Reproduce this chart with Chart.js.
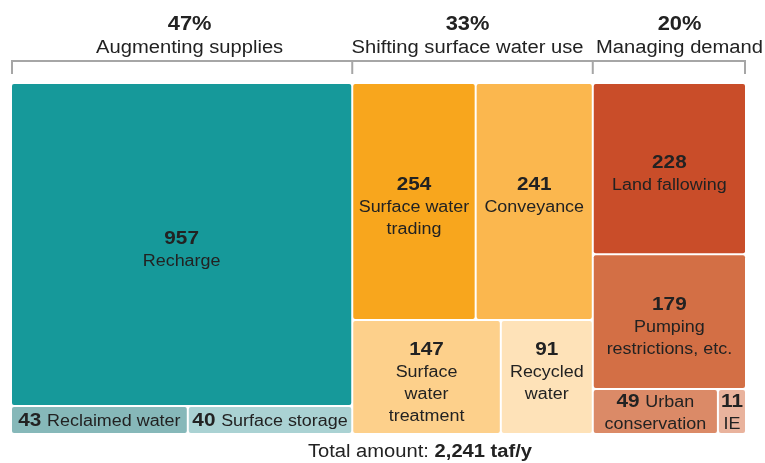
<!DOCTYPE html>
<html>
<head>
<meta charset="utf-8">
<script src="https://cdn.jsdelivr.net/npm/chart.js@4/dist/chart.umd.min.js"></script>
<style>
  html, body { margin: 0; padding: 0; background: #ffffff; }
  canvas { display: block; }
</style>
</head>
<body>
<canvas id="chart" width="765" height="463"></canvas>
<script>
// Groundwater balancing strategies (thousand acre-feet per year)
const categories = [
  'Recharge', 'Reclaimed water', 'Surface storage',
  'Surface water\ntrading', 'Conveyance', 'Surface\nwater\ntreatment', 'Recycled\nwater',
  'Land fallowing', 'Pumping\nrestrictions, etc.', 'Urban\nconservation', 'IE'
];
const values = [957, 43, 40, 254, 241, 147, 91, 228, 179, 49, 11];
const groupOfCategory = [0, 0, 0, 1, 1, 1, 1, 2, 2, 2, 2];
const groupNames = ['Augmenting supplies', 'Shifting surface water use', 'Managing demand'];
const groupShares = ['47%', '33%', '20%'];
const totalPrefix = 'Total amount: ';
const totalText = '2,241 taf/y';

const cellColors = [
  '#16999a', '#86b8b9', '#aad2d3',
  '#f8a61d', '#fbb74e', '#fdd08b', '#fee2b8',
  '#c94d29', '#d36f45', '#db8a67', '#e9b39d'
];

// Rows of cells inside each group column (category indices)
const tiling = [
  [[0], [1, 2]],
  [[3, 4], [5, 6]],
  [[7], [8], [9, 10]]
];

// Horizontal shift of each group heading away from its column centre (px)
const headerShift = [8, -5, 11];

// Slice-and-dice layout in value space: x spans the total, y spans 0..1
const total = values.reduce((a, b) => a + b, 0);
const rects = [];
const groupSpans = [];
let gx = 0;
tiling.forEach((rows) => {
  const gSum = rows.flat().reduce((s, i) => s + values[i], 0);
  const gx1 = gx + gSum;
  groupSpans.push([gx, gx1]);
  let ry = 0;
  rows.forEach((row) => {
    const rSum = row.reduce((s, i) => s + values[i], 0);
    const ry1 = ry + rSum / gSum;
    let cx = gx;
    row.forEach((i) => {
      const w = values[i] / rSum * gSum;
      rects[i] = { x0: cx, x1: cx + w, y0: ry, y1: ry1, row };
      cx += w;
    });
    ry = ry1;
  });
  gx = gx1;
});

const SX = 1.12;
const FAMILY = "'Liberation Sans', Arial, Helvetica, sans-serif";
const TEXT = '#222222';
const fontStr = (bold, size) => (bold ? 'bold ' : '') + size + 'px ' + FAMILY;

function partsWidth(ctx, parts) {
  let w = 0;
  parts.forEach((p) => { ctx.font = fontStr(p.bold, p.size); w += ctx.measureText(p.text).width * SX; });
  return w;
}
function drawParts(ctx, parts, cx, baseline) {
  let xx = cx - partsWidth(ctx, parts) / 2;
  parts.forEach((p) => {
    ctx.font = fontStr(p.bold, p.size);
    const w = ctx.measureText(p.text).width * SX;
    ctx.save();
    ctx.translate(xx, baseline);
    ctx.scale(SX, 1);
    ctx.fillStyle = TEXT;
    ctx.textAlign = 'left';
    ctx.textBaseline = 'alphabetic';
    ctx.fillText(p.text, 0, 0);
    ctx.restore();
    xx += w;
  });
}

const VAL = 18.5, NAME = 16, LH = 22;

const treemapPlugin = {
  id: 'treemapCells',
  beforeDatasetsDraw(chart) {
    const { ctx, scales: { x, y } } = chart;
    rects.forEach((r, i) => {
      const L = x.getPixelForValue(r.x0) + 1, R = x.getPixelForValue(r.x1) - 1;
      const T = y.getPixelForValue(r.y0) + 1, B = y.getPixelForValue(r.y1) - 1;
      ctx.fillStyle = cellColors[i];
      ctx.beginPath();
      ctx.roundRect(L, T, R - L, B - T, 2);
      ctx.fill();
    });
  },
  afterDatasetsDraw(chart) {
    const { ctx, scales: { x, y } } = chart;

    // cell labels: bold value above the name, or inline in short cells
    const cellLines = rects.map((r, i) => {
      const L = x.getPixelForValue(r.x0) + 1, R = x.getPixelForValue(r.x1) - 1;
      const T = y.getPixelForValue(r.y0) + 1, B = y.getPixelForValue(r.y1) - 1;
      const names = categories[i].split('\n');
      const v = String(values[i]);
      const nameLines = names.map((n) => [{ text: n, bold: false, size: NAME }]);
      let lines = [[{ text: v, bold: true, size: VAL }]].concat(nameLines);
      const short = (B - T) < 50;
      if (short) {
        const first = [{ text: v + ' ', bold: true, size: VAL }, { text: names[0], bold: false, size: NAME }];
        if (partsWidth(ctx, first) <= (R - L) + 2) {
          lines = [first].concat(nameLines.slice(1));
        }
      }
      return { L, R, T, B, lines, short };
    });
    rects.forEach((r, i) => {
      const c = cellLines[i];
      const nmax = Math.max(...r.row.map((j) => cellLines[j].lines.length));
      const mid = (c.T + c.B) / 2;
      const offset = c.short ? 0 : 4;
      const b1 = mid + 6.5 - (LH / 2) * (nmax - 1) + offset;
      const cx = (c.L + c.R) / 2;
      c.lines.forEach((parts, k) => drawParts(ctx, parts, cx, b1 + k * LH));
    });

    // group brackets
    const left = x.getPixelForValue(0) + 1, right = x.getPixelForValue(total) - 1;
    ctx.save();
    ctx.strokeStyle = '#a6a6a6';
    ctx.lineWidth = 2;
    ctx.beginPath();
    ctx.moveTo(left, 61);
    ctx.lineTo(right, 61);
    const ticks = [0].concat(groupSpans.map((s) => s[1]));
    ticks.forEach((t, k) => {
      let px = x.getPixelForValue(t);
      if (k === 0) px = left;
      if (k === ticks.length - 1) px = right;
      ctx.moveTo(px, 60);
      ctx.lineTo(px, 74);
    });
    ctx.stroke();
    ctx.restore();

    // group headings
    const cw = chart.width;
    groupSpans.forEach((s, g) => {
      const nameParts = [{ text: groupNames[g], bold: false, size: 18 }];
      const shareParts = [{ text: groupShares[g], bold: true, size: 19.5 }];
      const w = partsWidth(ctx, nameParts);
      let cx = (x.getPixelForValue(s[0]) + x.getPixelForValue(s[1])) / 2 + headerShift[g];
      cx = Math.min(cx, cw - 2 - w / 2);
      cx = Math.max(cx, 2 + w / 2);
      drawParts(ctx, shareParts, cx, 30);
      drawParts(ctx, nameParts, cx, 53);
    });

    // total line
    drawParts(ctx, [
      { text: totalPrefix, bold: false, size: 18 },
      { text: totalText, bold: true, size: 18 }
    ], 420, 457);
  }
};

new Chart(document.getElementById('chart'), {
  type: 'scatter',
  data: {
    datasets: [{
      label: 'Strategies',
      data: rects.map((r, i) => ({ x: (r.x0 + r.x1) / 2, y: (r.y0 + r.y1) / 2, v: values[i] })),
      pointRadius: 0,
      pointHoverRadius: 0
    }]
  },
  options: {
    responsive: false,
    animation: false,
    devicePixelRatio: 1,
    layout: { padding: { left: 11, right: 19, top: 83, bottom: 29 } },
    scales: {
      x: { type: 'linear', min: 0, max: total, display: false },
      y: { type: 'linear', min: 0, max: 1, reverse: true, display: false }
    },
    plugins: {
      legend: { display: false },
      tooltip: { enabled: false },
      title: { display: false }
    }
  },
  plugins: [treemapPlugin]
});
</script>
</body>
</html>
